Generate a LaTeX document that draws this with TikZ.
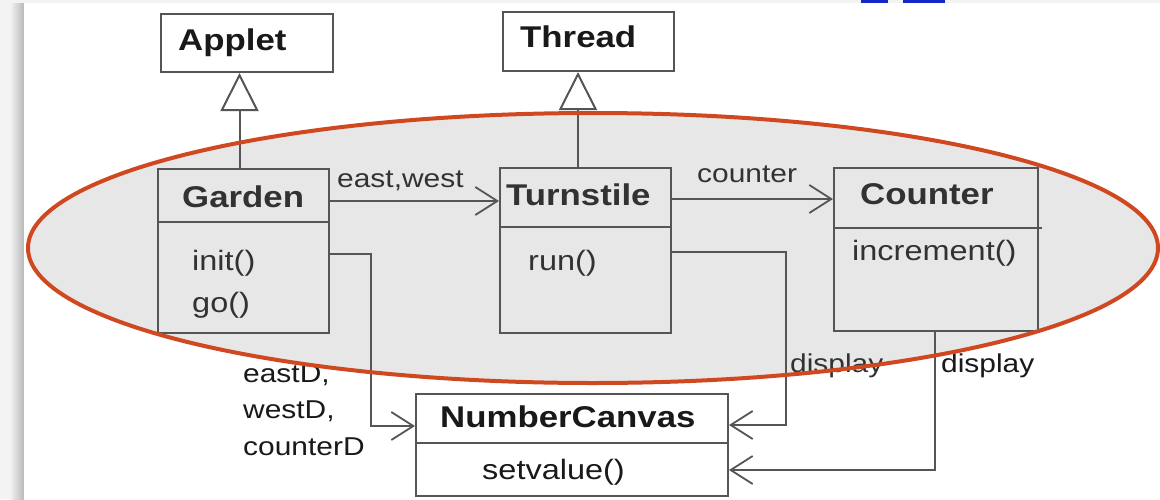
\documentclass[tikz,border=0pt]{standalone}
\usepackage{fontspec}
\setmainfont{Liberation Sans}[FakeStretch=1.16]
\usetikzlibrary{arrows.meta,calc}
\definecolor{ell}{RGB}{208,72,32}
\definecolor{ellfill}{RGB}{231,231,231}
\definecolor{ln}{RGB}{85,85,85}
\definecolor{tx}{RGB}{50,50,50}
\definecolor{txo}{RGB}{25,25,25}
\definecolor{bg}{RGB}{243,243,243}
\definecolor{blu}{RGB}{20,40,200}
\begin{document}
\begin{tikzpicture}[x=1pt,y=-1pt,
  cls/.style={draw=ln, line width=2pt, inner sep=0pt},
  title/.style={anchor=base west, inner sep=0pt, font=\fontsize{30}{32}\selectfont\bfseries, text=tx},
  member/.style={anchor=base west, inner sep=0pt, font=\fontsize{28}{30}\selectfont, text=tx},
  lbl/.style={anchor=base west, inner sep=0pt, font=\fontsize{25.8}{28}\selectfont, text=tx},
  divider/.style={draw=ln, line width=2pt},
  inh/.style={draw=ln, line width=2pt, -{Triangle[fill=white, length=38pt, width=38pt, line width=2pt]}},
  assoc/.style={draw=ln, line width=2pt, -{Straight Barb[length=22pt, width=28pt, line width=1.8pt]}},
]
\useasboundingbox (0,0) rectangle (1160,499);
% page background
\fill[bg] (0,0) rectangle (1160,499);
\shade[left color=bg, right color=gray!55] (10,3) rectangle (24,499);
\fill[white] (24,3) rectangle (1160,499);
\fill[blu] (861,0) rectangle (888,3);
\fill[blu] (903,0) rectangle (945,3);
% ellipse fill
\fill[ellfill] (593,248) ellipse [x radius=565, y radius=135];
% classes
\node[cls, fill=white, minimum width=172pt, minimum height=58pt] (applet) at (247,43) {};
\node[title, text=txo] (appletT) at (178,50) {Applet};
\node[cls, fill=white, minimum width=171pt, minimum height=59pt] (thread) at (588.5,41.5) {};
\node[title, text=txo] (threadT) at (520,47) {Thread};

\node[cls, minimum width=171pt, minimum height=164pt] (garden) at (243.5,251) {};
\draw[divider] ([yshift=29pt]garden.west) -- ([yshift=29pt]garden.east);
\node[title] (gardenT) at (182,207) {Garden};
\node[member] (gardenM1) at (192,270) {init()};
\node[member] (gardenM2) at (192,312) {go()};

\node[cls, minimum width=171pt, minimum height=165pt] (turnstile) at (585.5,250.5) {};
\draw[divider] ([yshift=23.5pt]turnstile.west) -- ([yshift=23.5pt]turnstile.east);
\node[title] (turnstileT) at (506,205) {Turnstile};
\node[member] (turnstileM1) at (528,270) {run()};

\node[cls, minimum width=204pt, minimum height=163pt] (counter) at (936,249.5) {};
\draw[divider] ([yshift=21.5pt]counter.west) -- ([yshift=21.5pt,xshift=3pt]counter.east);
\node[title] (counterT) at (860,204) {Counter};
\node[member] (counterM1) at (852,260) {increment()};

\node[cls, fill=white, minimum width=312pt, minimum height=102pt] (nc) at (572,445) {};
\draw[divider] ([yshift=2pt]nc.west) -- ([yshift=2pt]nc.east);
\node[title, text=txo] (ncT) at (440,427) {NumberCanvas};
\node[member, text=txo] (ncM1) at (482,479) {setvalue()};

% generalisations
\draw[inh] ([xshift=-4pt]garden.north) -- ([xshift=-4pt]garden.north |- applet.south);
\draw[inh] ([xshift=-7.5pt]turnstile.north) -- ([xshift=-7.5pt]turnstile.north |- thread.south);

% associations
\draw[assoc] ([yshift=50pt]garden.east) -- ([yshift=50pt]garden.east -| turnstile.west);
\node[lbl] (ewL) at (337,187) {east,west};
\draw[assoc] ([yshift=51.5pt]turnstile.east) -- ([yshift=51.5pt]turnstile.east -| counter.west);
\node[lbl] (cL) at (697,182) {counter};

\draw[assoc] ([yshift=-3pt]garden.east) -| ([yshift=19pt,xshift=-44pt]nc.west) -- ([yshift=19pt]nc.west);
\node[lbl, text=txo] (edL) at (243,382) {eastD,};
\node[lbl, text=txo] (wdL) at (243,418) {westD,};
\node[lbl, text=txo] (cdL) at (243,455) {counterD};

\draw[assoc] ([yshift=-1.5pt]turnstile.east) -| ([yshift=20pt,xshift=57pt]nc.east) -- ([yshift=20pt]nc.east);
\node[lbl] (d1L) at (790,372) {display};
\draw[assoc] ([xshift=-1pt]counter.south) |- ([yshift=-25pt]nc.east);
\node[lbl, text=txo] (d2L) at (941,372) {display};

% ellipse outline
\draw[ell, line width=4pt] (593,248) ellipse [x radius=565, y radius=135];
\end{tikzpicture}
\end{document}
